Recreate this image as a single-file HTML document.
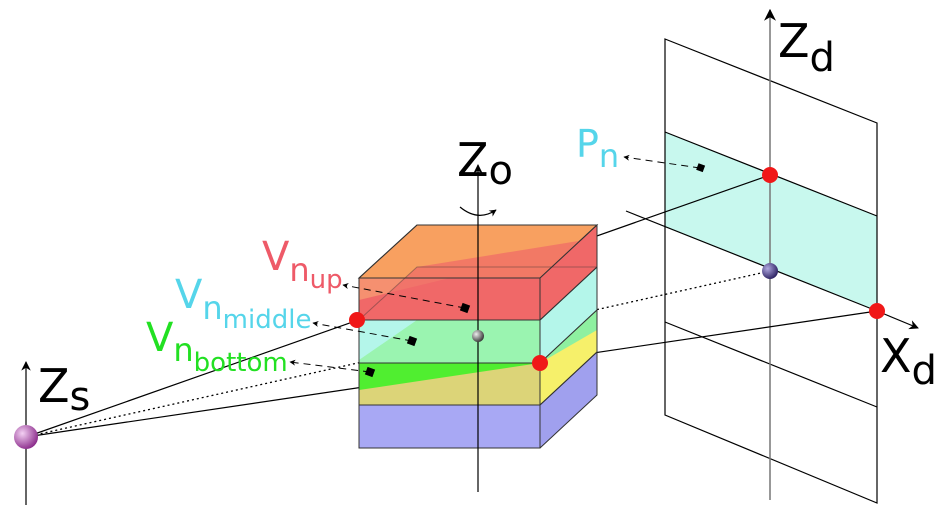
<!DOCTYPE html>
<html><head><meta charset="utf-8"><style>
html,body{margin:0;padding:0;background:#fff}
svg{display:block}
text{font-family:"DejaVu Sans","Liberation Sans",sans-serif}
</style></head><body>
<svg width="940" height="529" viewBox="0 0 940 529">
<defs>
<marker id="ah" viewBox="0 0 10 10" refX="9" refY="5" markerWidth="8" markerHeight="8" orient="auto"><path d="M0,0 L10,5 L0,10 L3,5 z" fill="#000"/></marker>
<marker id="ahs" viewBox="0 0 10 10" refX="9" refY="5" markerWidth="6" markerHeight="6" orient="auto"><path d="M0,0 L10,5 L0,10 L3,5 z" fill="#000"/></marker>
<radialGradient id="gp" cx="0.35" cy="0.35" r="0.7"><stop offset="0" stop-color="#f3d0f3"/><stop offset="1" stop-color="#8a2a8a"/></radialGradient>
<radialGradient id="gg" cx="0.35" cy="0.35" r="0.7"><stop offset="0" stop-color="#eee"/><stop offset="1" stop-color="#333"/></radialGradient>
<radialGradient id="gb" cx="0.35" cy="0.35" r="0.7"><stop offset="0" stop-color="#b0a8e0"/><stop offset="1" stop-color="#2a2060"/></radialGradient>
</defs>

<!-- detector -->
<g>
<polygon points="665,132 877,216 877,311 665,227" fill="#c8f8ee"/>
<polygon points="665,39 877,123 877,503 665,415" fill="none" stroke="#000" stroke-width="1.2"/>
<line x1="665" y1="132" x2="877" y2="216" stroke="#000" stroke-width="1.2"/>
<line x1="626" y1="211" x2="877" y2="311" stroke="#000" stroke-width="1.2"/>
<line x1="665" y1="322" x2="877" y2="407" stroke="#000" stroke-width="1.2"/>
<line x1="877" y1="311" x2="918" y2="328" stroke="#000" stroke-width="1.2" marker-end="url(#ah)"/>
<line x1="770" y1="500" x2="770" y2="10" stroke="#777" stroke-width="1.5" marker-end="url(#ah)"/>
</g>

<!-- rays -->
<line x1="26" y1="437" x2="770" y2="175" stroke="#000" stroke-width="1.2"/>
<line x1="26" y1="437" x2="877" y2="311" stroke="#000" stroke-width="1.2"/>
<line x1="26" y1="437" x2="770" y2="271" stroke="#000" stroke-width="1.3" stroke-dasharray="2,3"/>

<!-- cube -->
<g stroke="#333" stroke-width="1">
<!-- blue layer -->
<polygon points="359,405 540,405 597,352 597,395 540,448 359,448" fill="#a8a8f4" stroke="none"/>
<polygon points="540,405 597,352 597,395 540,448" fill="#a0a0ee" stroke="none"/>
<!-- yellow layer -->
<polygon points="359,363 540,363 540,405 359,405" fill="#dcd478"/>
<polygon points="540,363 597,310 597,352 540,405" fill="#f6f06a"/>
<polygon points="359,363 540,363 359,390" fill="#50ee30" stroke="none"/>
<!-- middle layer -->
<polygon points="359,320 540,320 540,363 359,363" fill="#9af4b0"/>
<polygon points="540,320 597,267 597,310 540,363" fill="#b4f6ea"/>
<polygon points="540,363 597,310 597,330" fill="#8ef0a0" stroke="none"/>
<polygon points="359,320 417,320 359,360" fill="#b4f6ea" stroke="none"/>
<!-- top layer -->
<polygon points="417,225 597,225 540,278 359,278" fill="#f8a060"/>
<polygon points="359,278 540,278 540,320 359,320" fill="#f06868"/>
<polygon points="359,278 450,278 359,300" fill="#f59070" stroke="none"/>
<polygon points="540,278 597,225 597,267 540,320" fill="#f06868"/>
<polygon points="417,267 597,238 597,267 540,320 359,320" fill="#f06868" fill-opacity="0.7" stroke="none"/>
<g fill="none">
<polygon points="359,278 540,278 540,448 359,448"/>
<polyline points="359,278 417,225 597,225 597,395 540,448"/>
<line x1="540" y1="278" x2="597" y2="225"/>
<line x1="359" y1="320" x2="540" y2="320"/><line x1="540" y1="320" x2="597" y2="267"/>
<line x1="359" y1="363" x2="540" y2="363"/><line x1="540" y1="363" x2="597" y2="310"/>
<line x1="359" y1="405" x2="540" y2="405"/><line x1="540" y1="405" x2="597" y2="352"/>
<polyline points="359,320 417,267 597,267" stroke-opacity="0.4"/>
</g>
</g>

<!-- Zo axis -->
<line x1="478" y1="492" x2="478" y2="165" stroke="#000" stroke-width="1.2" marker-end="url(#ah)"/>
<path d="M460,207 Q478,222 496,210" fill="none" stroke="#000" stroke-width="1.2" marker-end="url(#ahs)"/>

<!-- Zs axis -->
<line x1="26" y1="505" x2="26" y2="362" stroke="#000" stroke-width="1.2" marker-end="url(#ah)"/>

<!-- dashed arrows and voxels -->
<g stroke="#000" stroke-width="1" stroke-dasharray="7,5" fill="none">
<line x1="465" y1="308" x2="343" y2="285" marker-end="url(#ahs)"/>
<line x1="412" y1="341" x2="313" y2="323" marker-end="url(#ahs)"/>
<line x1="370" y1="372" x2="290" y2="362" marker-end="url(#ahs)"/>
<line x1="700" y1="168" x2="624" y2="157" marker-end="url(#ahs)"/>
</g>
<g fill="#000">
<rect x="461" y="304" width="8" height="8" transform="rotate(20 465 308)"/>
<rect x="408" y="337" width="8" height="8" transform="rotate(20 412 341)"/>
<rect x="366" y="368" width="8" height="8" transform="rotate(20 370 372)"/>
<rect x="697" y="164" width="7" height="7" transform="rotate(20 700 168)"/>
</g>

<!-- points -->
<circle cx="26" cy="437" r="12" fill="url(#gp)"/>
<circle cx="478" cy="336" r="6" fill="url(#gg)"/>
<circle cx="770" cy="271" r="8" fill="url(#gb)"/>
<circle cx="357" cy="320" r="8" fill="#f01818"/>
<circle cx="540" cy="363" r="8" fill="#f01818"/>
<circle cx="770" cy="175" r="8" fill="#f01818"/>
<circle cx="877" cy="311" r="8" fill="#f01818"/>

<!-- labels -->
<text x="38" y="402" font-size="46" fill="#000">Z<tspan font-size="40" dy="8">s</tspan></text>
<text x="457" y="176" font-size="46" fill="#000">Z<tspan font-size="40" dy="8">o</tspan></text>
<text x="778" y="57" font-size="46" fill="#000">Z<tspan font-size="40" dy="14">d</tspan></text>
<text x="880" y="372" font-size="46" fill="#000">X<tspan font-size="40" dy="12">d</tspan></text>
<text x="576" y="157" font-size="38" fill="#55d5ea">P<tspan font-size="32" dy="10">n</tspan></text>
<text x="262" y="270" font-size="40" fill="#ee5a68">V<tspan font-size="32" dy="11">n</tspan><tspan font-size="26" dy="7">up</tspan></text>
<text x="175" y="308" font-size="40" fill="#55d5ea">V<tspan font-size="32" dy="11">n</tspan><tspan font-size="26" dy="9">middle</tspan></text>
<text x="146" y="351" font-size="40" fill="#22e022">V<tspan font-size="32" dy="10">n</tspan><tspan font-size="26" dy="10">bottom</tspan></text>
</svg>
</body></html>
